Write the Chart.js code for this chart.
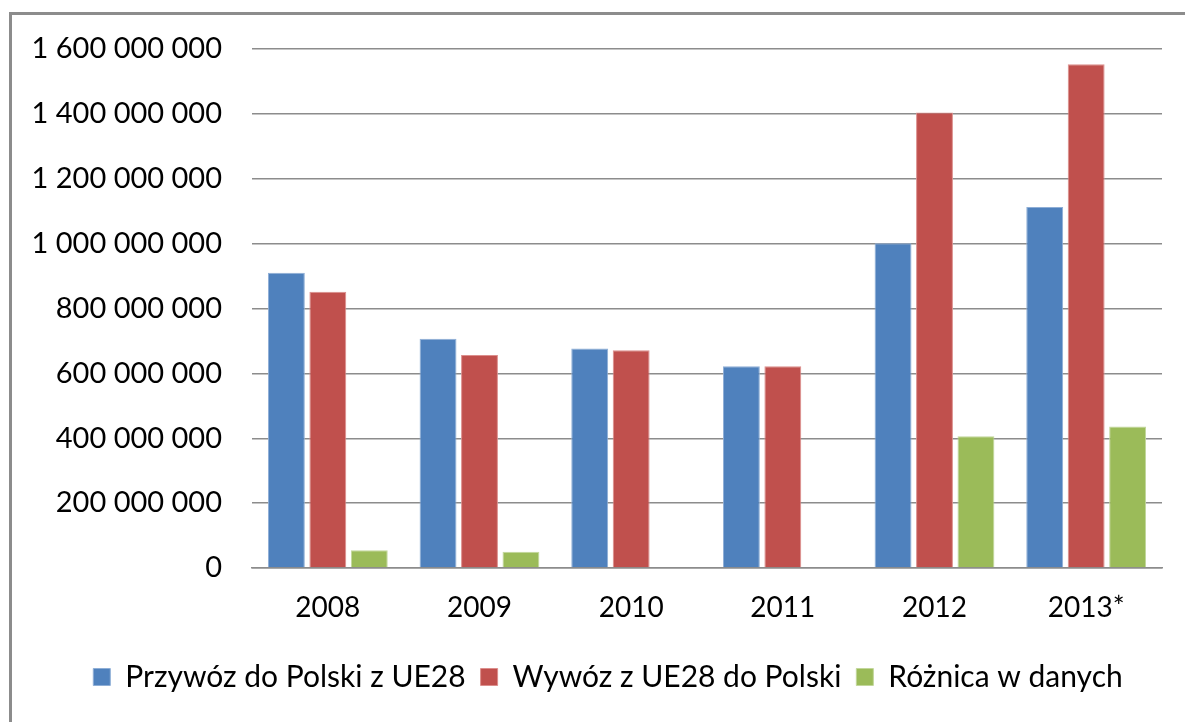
<!DOCTYPE html>
<html>
<head>
<meta charset="utf-8">
<script src="https://cdn.jsdelivr.net/npm/chart.js@4.4.1/dist/chart.umd.min.js"></script>
<style>
  html, body { margin: 0; padding: 0; background: #fff; overflow: hidden; }
  #wrap { position: relative; width: 1185px; height: 722px; }
  #frame {
    position: absolute; left: 9px; top: 12px; width: 1200px; height: 740px;
    border-left: 3px solid #8c8c8c; border-top: 3px solid #8c8c8c;
    box-sizing: border-box;
  }
  canvas { position: absolute; left: 0; top: 0; }
</style>
</head>
<body>
<div id="wrap">
  <div id="frame"></div>
  <canvas id="barChart" width="1185" height="722"></canvas>
</div>
<script>
// ================= DATA =================
let years = ["2008", "2009", "2010", "2011", "2012", "2013*"];
let przywoz = [910000000, 707000000, 677000000, 622000000, 1001000000, 1113000000];
let wywoz = [852000000, 657000000, 671000000, 622000000, 1404000000, 1553000000];
let roznica = [55000000, 50000000, null, null, 406000000, 436000000];
let seriesNames = ["Przywóz do Polski z UE28", "Wywóz z UE28 do Polski", "Różnica w danych"];

// ================= STYLE =================
let font = "Lato, 'Open Sans', sans-serif";

function spaced(v) {
    return String(Math.round(v)).replace(/\B(?=(\d{3})+(?!\d))/g, " ");
}

// legend is centred on the whole frame, not on the canvas -> nudge it right
let legendShift = {
    id: "legendShift",
    afterLayout(chart) {
        chart.legend.left += 27;
        chart.legend.right += 27;
    }
};

// ================= CHART =================
new Chart(document.getElementById("barChart"), {
    type: "bar",
    plugins: [legendShift],
    data: {
        labels: years,
        datasets: [{
            label: seriesNames[0],
            data: przywoz,
            backgroundColor: "#4F81BD",
            borderColor: "#8eaed6",
            borderWidth: 1
        }, {
            label: seriesNames[1],
            data: wywoz,
            backgroundColor: "#C0504D",
            borderColor: "#dc8e8c",
            borderWidth: 1
        }, {
            label: seriesNames[2],
            data: roznica,
            backgroundColor: "#9BBB59",
            borderColor: "#c2d79b",
            borderWidth: 1
        }]
    },
    options: {
        responsive: false,
        animation: false,
        categoryPercentage: 0.82,
        barPercentage: 0.89,
        layout: { padding: { left: 0, right: 23, top: 49, bottom: 20 } },
        plugins: {
            tooltip: { enabled: false },
            legend: {
                position: "bottom",
                labels: {
                    boxWidth: 17,
                    boxHeight: 17,
                    padding: 15,
                    color: "#000",
                    font: { family: font, size: 30 }
                }
            }
        },
        scales: {
            x: {
                afterFit: function (scale) { scale.height = 79; },
                grid: { display: false },
                border: { display: true, color: "#8c8c8c", width: 1.5 },
                ticks: { color: "#000", padding: 15, font: { family: font, size: 28 } }
            },
            y: {
                min: 0,
                max: 1600000000,
                afterFit: function (scale) { scale.width = 252; },
                border: { display: false },
                grid: { color: "#8c8c8c", lineWidth: 1.5, drawTicks: false },
                ticks: {
                    stepSize: 200000000,
                    padding: 30,
                    color: "#000",
                    font: { family: font, size: 29 },
                    callback: function (v) { return spaced(v); }
                }
            }
        }
    }
});
</script>
</body>
</html>
